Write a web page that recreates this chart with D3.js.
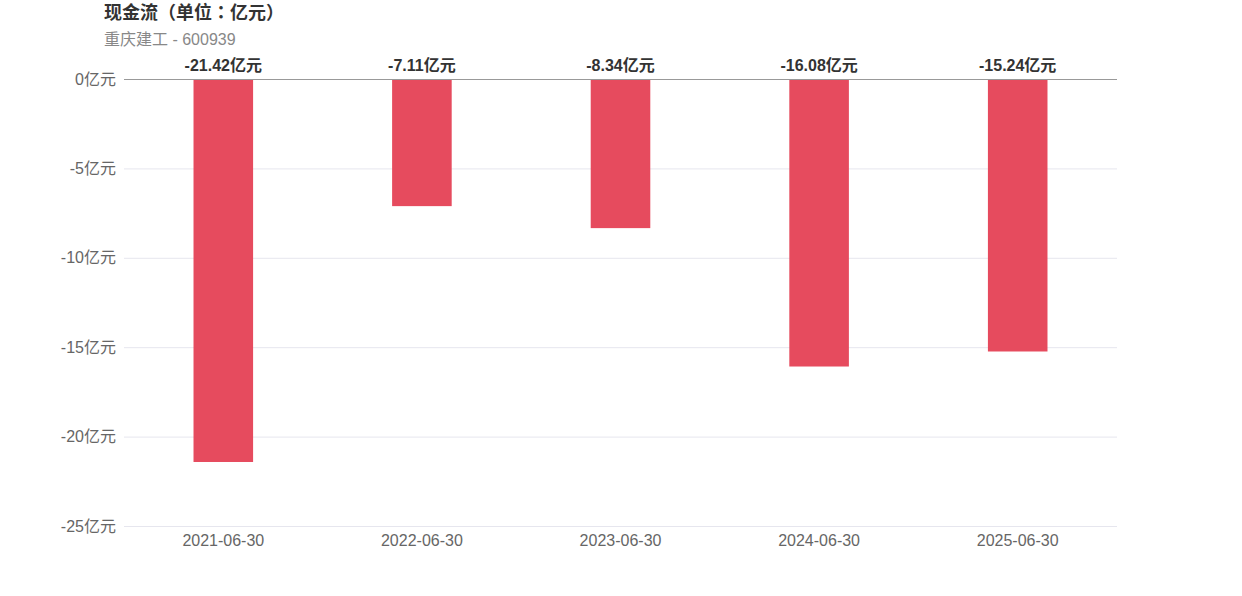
<!DOCTYPE html>
<html><head><meta charset="utf-8">
<script src="https://cdn.jsdelivr.net/npm/d3@7/dist/d3.min.js"></script>
<style>body{margin:0;background:#fff;}svg{display:block;font-family:"Liberation Sans","Noto Sans CJK SC",sans-serif;}</style>
</head><body>
<svg id="c" width="1242" height="596"></svg>
<script>
const categories = ["2021-06-30","2022-06-30","2023-06-30","2024-06-30","2025-06-30"];
const values = [-21.42,-7.11,-8.34,-16.08,-15.24];
const yTicks = [0,-5,-10,-15,-20,-25];
const title = "现金流（单位：亿元）";
const subtitle = "重庆建工 - 600939";

const svg = d3.select("#c");
const m = {left:124, right:1117, top:79, bottom:526};
const x = d3.scaleBand().domain(categories).range([m.left,m.right]).paddingInner(0.7).paddingOuter(0.35);
const y = d3.scaleLinear().domain([0,-25]).range([m.top,m.bottom]);

svg.append("text").attr("x",104).attr("y",19).attr("font-size",18).attr("font-weight","bold").attr("fill","#333")
  .style("font-family",'"Liberation Sans","Noto Sans CJK TC",sans-serif').text(title);
svg.append("text").attr("x",104).attr("y",45).attr("font-size",16).attr("fill","#888").text(subtitle);

const g = svg.append("g");
g.selectAll("line.grid").data(yTicks.filter(d=>d!==0)).join("line")
  .attr("x1",m.left).attr("x2",m.right).attr("y1",d=>y(d)+0.5).attr("y2",d=>y(d)+0.5)
  .attr("stroke","#e6e6ee").attr("stroke-width",1);
g.selectAll("text.yl").data(yTicks).join("text")
  .attr("x",116).attr("y",d=>y(d)).attr("dy","0.35em").attr("text-anchor","end")
  .attr("font-size",16).attr("fill","#666").text(d=>d+"亿元");

g.selectAll("rect").data(values).join("rect")
  .attr("x",(d,i)=>x(categories[i])).attr("width",x.bandwidth())
  .attr("y",d=>y(Math.max(0,d))).attr("height",d=>Math.abs(y(d)-y(0)))
  .attr("fill","#e64b5e");

g.append("line").attr("x1",m.left).attr("x2",m.right).attr("y1",y(0)+0.5).attr("y2",y(0)+0.5).attr("stroke","#999").attr("stroke-width",1);

g.selectAll("text.vl").data(values).join("text")
  .attr("x",(d,i)=>x(categories[i])+x.bandwidth()/2).attr("y",y(0)-8)
  .attr("text-anchor","middle").attr("font-size",16).attr("font-weight","bold").attr("fill","#333")
  .text(d=>d.toFixed(2)+"亿元");

g.selectAll("text.xl").data(categories).join("text")
  .attr("x",d=>x(d)+x.bandwidth()/2).attr("y",546).attr("text-anchor","middle")
  .attr("font-size",16).attr("fill","#666").text(d=>d);
</script>
</body></html>
